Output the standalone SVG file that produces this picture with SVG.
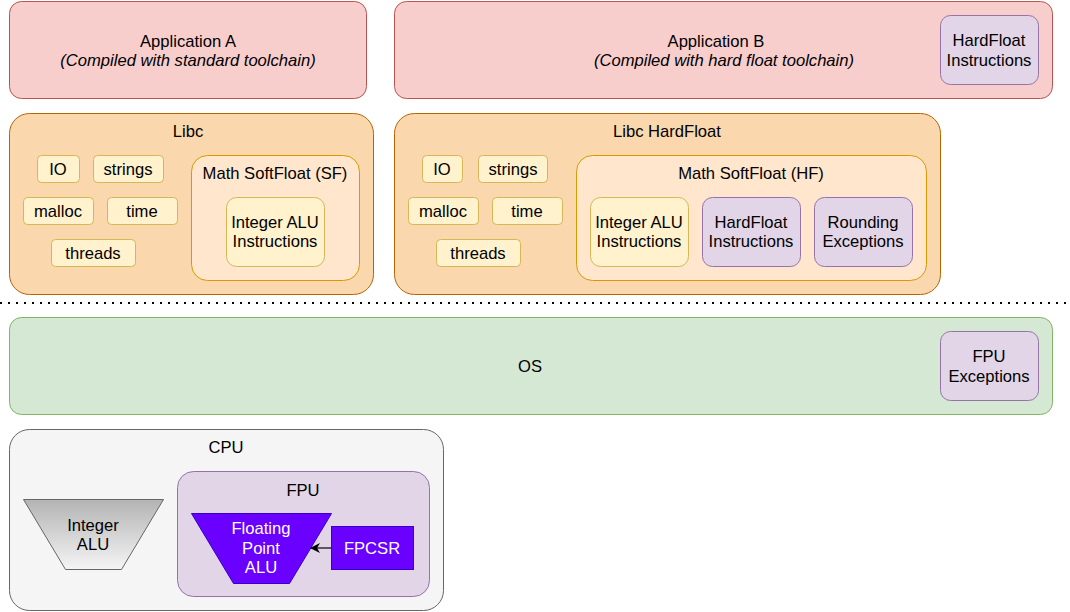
<svg xmlns="http://www.w3.org/2000/svg" width="1070" height="612" viewBox="0 0 1070 612">
<style>
text{font-family:"Liberation Sans",Arial,sans-serif;font-size:16.6px;fill:#000;text-anchor:middle}
.red{fill:#f8cecc;stroke:#b85450}
.org{fill:#fad7ac;stroke:#b46504}
.math{fill:#ffe6cc;stroke:#d79b00}
.yel{fill:#fff2cc;stroke:#d6b656}
.pur{fill:#e1d5e7;stroke:#9673a6}
.grn{fill:#d5e8d4;stroke:#82b366}
.gry{fill:#f5f5f5;stroke:#666666}
.vio{fill:#6a00ff;stroke:#3700cc}
.w{fill:#ffffff}
.i{font-style:italic}
</style>
<defs>
<linearGradient id="gg" x1="0" y1="0" x2="0" y2="1">
<stop offset="0" stop-color="#b3b3b3"/>
<stop offset="1" stop-color="#f5f5f5"/>
</linearGradient>
<marker id="ah" viewBox="0 0 10 10" refX="9" refY="5" markerWidth="10" markerHeight="10" orient="auto" markerUnits="userSpaceOnUse">
<path d="M0,0 L10,5 L0,10 L3,5 Z" fill="#000"/>
</marker>
</defs>

<g id="appA">
<rect class="red" x="9.5" y="1.5" width="357" height="97" rx="12"/>
<text x="188" y="47">Application A</text>
<text class="i" x="188" y="66">(Compiled with standard toolchain)</text>
</g>
<g id="appB">
<rect class="red" x="394.5" y="1.5" width="658" height="97" rx="12"/>
<text x="716" y="47">Application B</text>
<text class="i" x="724" y="66">(Compiled with hard float toolchain)</text>
</g>
<g id="appB-hf">
<rect class="pur" x="940.5" y="15.5" width="98" height="69" rx="10"/>
<text x="989" y="46">HardFloat</text>
<text x="989" y="66">Instructions</text>
</g>

<g id="libc">
<rect class="org" x="9.5" y="113.5" width="364" height="181" rx="20"/>
<text x="188" y="137">Libc</text>
</g>
<g id="libc-io"><rect class="yel" x="37.5" y="155.5" width="42" height="27" rx="4"/><text x="58" y="175">IO</text></g>
<g id="libc-strings"><rect class="yel" x="93.5" y="155.5" width="70" height="27" rx="4"/><text x="128" y="175">strings</text></g>
<g id="libc-malloc"><rect class="yel" x="23.5" y="197.5" width="70" height="27" rx="4"/><text x="58" y="217">malloc</text></g>
<g id="libc-time"><rect class="yel" x="107.5" y="197.5" width="70" height="27" rx="4"/><text x="142" y="217">time</text></g>
<g id="libc-threads"><rect class="yel" x="51.5" y="239.5" width="84" height="27" rx="4"/><text x="93" y="259">threads</text></g>
<g id="libc-math">
<rect class="math" x="191.5" y="155.5" width="168" height="125" rx="16"/>
<text x="275" y="179">Math SoftFloat (SF)</text>
</g>
<g id="libc-math-int">
<rect class="yel" x="226.5" y="197.5" width="98" height="69" rx="10"/>
<text x="275" y="228">Integer ALU</text>
<text x="275" y="247">Instructions</text>
</g>

<g id="libchf">
<rect class="org" x="394.5" y="113.5" width="546" height="181" rx="20"/>
<text x="667" y="137">Libc HardFloat</text>
</g>
<g id="libchf-io"><rect class="yel" x="422.5" y="155.5" width="40" height="27" rx="4"/><text x="442" y="175">IO</text></g>
<g id="libchf-strings"><rect class="yel" x="478.5" y="155.5" width="69" height="27" rx="4"/><text x="513" y="175">strings</text></g>
<g id="libchf-malloc"><rect class="yel" x="408.5" y="197.5" width="70" height="27" rx="4"/><text x="443" y="217">malloc</text></g>
<g id="libchf-time"><rect class="yel" x="492.5" y="197.5" width="70" height="27" rx="4"/><text x="527" y="217">time</text></g>
<g id="libchf-threads"><rect class="yel" x="436.5" y="239.5" width="84" height="27" rx="4"/><text x="478" y="259">threads</text></g>
<g id="libchf-math">
<rect class="math" x="576.5" y="155.5" width="350" height="125" rx="16"/>
<text x="751" y="179">Math SoftFloat (HF)</text>
</g>
<g id="libchf-int">
<rect class="yel" x="590.5" y="197.5" width="98" height="69" rx="10"/>
<text x="639" y="228">Integer ALU</text>
<text x="639" y="247">Instructions</text>
</g>
<g id="libchf-hf">
<rect class="pur" x="702.5" y="197.5" width="98" height="69" rx="10"/>
<text x="751" y="228">HardFloat</text>
<text x="751" y="247">Instructions</text>
</g>
<g id="libchf-round">
<rect class="pur" x="814.5" y="197.5" width="98" height="69" rx="10"/>
<text x="863" y="228">Rounding</text>
<text x="863" y="247">Exceptions</text>
</g>

<g id="separator">
<line x1="0" y1="303" x2="1070" y2="303" stroke="#000" stroke-width="2" stroke-dasharray="2 6"/>
</g>

<g id="os">
<rect class="grn" x="9.5" y="317.5" width="1043" height="97" rx="12"/>
<text x="530" y="372">OS</text>
</g>
<g id="os-fpuexc">
<rect class="pur" x="940.5" y="331.5" width="98" height="69" rx="10"/>
<text x="989" y="362">FPU</text>
<text x="989" y="382">Exceptions</text>
</g>

<g id="cpu">
<rect class="gry" x="9.5" y="429.5" width="434" height="181" rx="20"/>
<text x="226" y="453">CPU</text>
</g>
<g id="intalu">
<path d="M23.5,499.5 L163.5,499.5 L121.5,569.5 L65.5,569.5 Z" fill="url(#gg)" stroke="#666666"/>
<text x="93" y="531">Integer</text>
<text x="93" y="550">ALU</text>
</g>
<g id="fpu">
<rect class="pur" x="177.5" y="471.5" width="252" height="125" rx="16"/>
<text x="303" y="496">FPU</text>
</g>
<g id="fpalu">
<path class="vio" d="M191.5,513.5 L331.5,513.5 L289.5,583.5 L233.5,583.5 Z"/>
<text class="w" x="261" y="534">Floating</text>
<text class="w" x="261" y="554">Point</text>
<text class="w" x="261" y="573">ALU</text>
</g>
<g id="fpcsr">
<rect class="vio" x="331.5" y="526.5" width="82" height="43"/>
<text class="w" x="372" y="554">FPCSR</text>
</g>

<g id="connectors">
<line x1="331" y1="548" x2="311" y2="548" stroke="#000" stroke-width="1.2" marker-end="url(#ah)"/>
</g>
</svg>
